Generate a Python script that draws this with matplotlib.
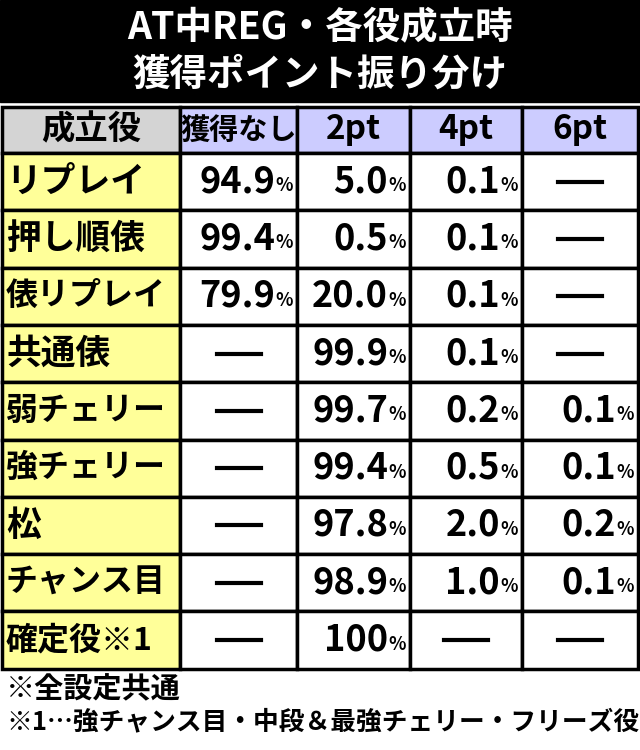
import matplotlib
matplotlib.use("Agg")
import matplotlib.pyplot as plt
from matplotlib.patches import Rectangle

plt.rcParams['font.family'] = ['Noto Sans CJK JP', 'DejaVu Sans']

# Données du tableau
titre = ["AT中REG・各役成立時", "獲得ポイント振り分け"]
entetes = ["成立役", "獲得なし", "2pt", "4pt", "6pt"]
roles = ["リプレイ", "押し順俵", "俵リプレイ", "共通俵", "弱チェリー",
         "強チェリー", "松", "チャンス目", "確定役※1"]
aucun = ["94.9", "99.4", "79.9", None, None, None, None, None, None]
pt2 = ["5.0", "0.5", "20.0", "99.9", "99.7", "99.4", "97.8", "98.9", "100"]
pt4 = ["0.1", "0.1", "0.1", "0.1", "0.2", "0.5", "2.0", "1.0", None]
pt6 = [None, None, None, None, "0.1", "0.1", "0.2", "0.1", None]
notes = ["※全設定共通", "※1…強チャンス目・中段＆最強チェリー・フリーズ役"]

colonnes = [aucun, pt2, pt4, pt6]
bords_x = [2, 180, 297, 410, 522, 638]
haut_entete = 107
bas_entete = 153
haut_ligne = 57.3

fig = plt.figure(figsize=(6.4, 7.5), dpi=100)
ax = fig.add_axes([0, 0, 1, 1])
ax.set_xlim(0, 640)
ax.set_ylim(750, 0)
ax.axis("off")

# Bandeau du titre
ax.add_patch(Rectangle((0, 0), 640, 102, color="black"))
ax.text(320, 28, titre[0], color="white", fontsize=27, fontweight="bold", ha="center", va="center")
ax.text(320, 74, titre[1], color="white", fontsize=27, fontweight="bold", ha="center", va="center")

# Ligne d'en-tête
for j, nom in enumerate(entetes):
    x0, x1 = bords_x[j], bords_x[j + 1]
    couleur = "#d4d4d4" if j == 0 else "#ccccff"
    ax.add_patch(Rectangle((x0, haut_entete), x1 - x0, bas_entete - haut_entete,
                           facecolor=couleur, edgecolor="black", lw=2.5))
    taille = 21 if j == 1 else 24
    ax.text((x0 + x1) / 2, (haut_entete + bas_entete) / 2, nom, fontsize=taille,
            fontweight="bold", ha="center", va="center")

# Lignes du tableau
for i, role in enumerate(roles):
    y0 = bas_entete + i * haut_ligne
    yc = y0 + haut_ligne / 2
    ax.add_patch(Rectangle((bords_x[0], y0), bords_x[1] - bords_x[0], haut_ligne,
                           facecolor="#ffff99", edgecolor="black", lw=2.5))
    taille = 23 if len(role) >= 5 else 25
    ax.text(6, yc, role, fontsize=taille, fontweight="bold", ha="left", va="center")
    for j, col in enumerate(colonnes):
        x0, x1 = bords_x[j + 1], bords_x[j + 2]
        ax.add_patch(Rectangle((x0, y0), x1 - x0, haut_ligne,
                               facecolor="white", edgecolor="black", lw=2.5))
        v = col[i]
        if v is None:
            ax.plot([(x0 + x1) / 2 - 22, (x0 + x1) / 2 + 22], [yc, yc], color="black", lw=3)
        else:
            ax.text(x1 - 22, yc, v, fontsize=26, fontweight="bold", ha="right", va="center")
            ax.text(x1 - 4, yc + 4, "%", fontsize=13, fontweight="bold", ha="right", va="center")

# Notes en bas
ax.text(6, 689, notes[0], fontsize=21, fontweight="bold", ha="left", va="center")
ax.text(6, 722, notes[1], fontsize=18.5, fontweight="bold", ha="left", va="center")

fig.savefig("out.png", dpi=100)
